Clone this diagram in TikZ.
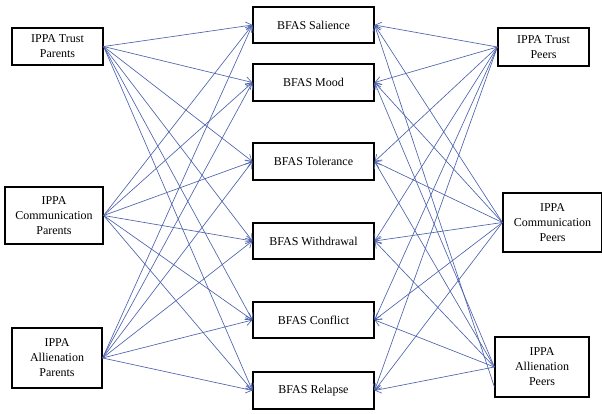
\documentclass[tikz,border=0pt]{standalone}
\usepackage{fontspec}
\setmainfont{Liberation Serif}
\usetikzlibrary{arrows.meta}
\definecolor{arr}{RGB}{76,98,172}
\tikzset{
  box/.style={draw=black, line width=1.2pt, fill=white, align=center, inner sep=0pt,
    font=\fontsize{12}{15}\selectfont},
  lnk/.style={draw=arr, line width=0.65pt, -{Straight Barb[length=6pt,width=8pt,line width=0.65pt]}}
}
\begin{document}
\begin{tikzpicture}[x=1pt,y=-1pt]
\useasboundingbox (0,0) rectangle (602,414);
% left
\node[box, minimum width=91pt, minimum height=37pt] (tp) at (57.5,46.5) {IPPA Trust\\Parents};
\node[box, minimum width=98pt, minimum height=57pt] (cp) at (54,215.5) {IPPA\\Communication\\Parents};
\node[box, minimum width=90pt, minimum height=60pt] (ap) at (57,358) {IPPA\\Allienation\\Parents};
% middle
\node[box, minimum width=121pt, minimum height=36pt] (sal) at (313.5,25) {BFAS Salience};
\node[box, minimum width=121pt, minimum height=37pt] (moo) at (313.5,82.5) {BFAS Mood};
\node[box, minimum width=121pt, minimum height=37pt] (tol) at (313.5,161.5) {BFAS Tolerance};
\node[box, minimum width=121pt, minimum height=36pt] (wit) at (313.5,241) {BFAS Withdrawal};
\node[box, minimum width=121pt, minimum height=36pt] (con) at (313.5,320) {BFAS Conflict};
\node[box, minimum width=121pt, minimum height=37pt] (rel) at (313.5,390.5) {BFAS Relapse};
% right
\node[box, minimum width=91pt, minimum height=38pt] (tpe) at (543.5,47) {IPPA Trust\\Peers};
\node[box, minimum width=99pt, minimum height=59pt] (cpe) at (552.5,222.5) {IPPA\\Communication\\Peers};
\node[box, minimum width=94pt, minimum height=60pt] (ape) at (542,367) {IPPA\\Allienation\\Peers};
\coordinate (apelow) at ([yshift=-20pt]ape.west);
% links
\foreach \s in {tp,cp,ap}{
  \foreach \t in {sal,moo,tol,wit,con,rel}{
    \draw[lnk] (\s.east) -- (\t.west);
  }
}
\foreach \s in {tpe,cpe}{
  \foreach \t in {sal,moo,tol,wit,con,rel}{
    \draw[lnk] (\s.west) -- (\t.east);
  }
}
\draw[lnk] (apelow) -- (sal.east);
\foreach \t in {moo,tol,wit,con,rel}{
  \draw[lnk] (ape.west) -- (\t.east);
}
\end{tikzpicture}
\end{document}
